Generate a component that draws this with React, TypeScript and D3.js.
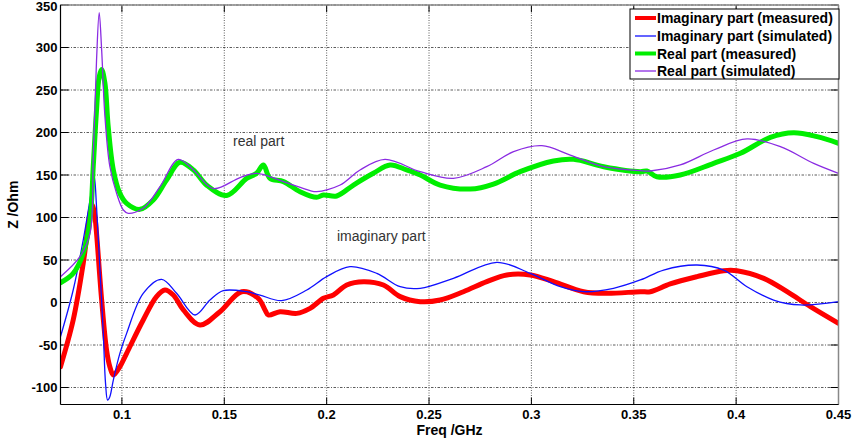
import React from "react";
import * as d3 from "d3";

// Frequency sweep (GHz) and impedance (Ohm) for each trace
const imagMeasFreq = [0.070, 0.0762, 0.0811, 0.0844, 0.0855, 0.0868, 0.0876, 0.0901, 0.0925, 0.0941, 0.0958, 0.0990, 0.1023, 0.1104, 0.1169, 0.1210, 0.1251, 0.1300, 0.1381, 0.1479, 0.1585, 0.1666, 0.1699, 0.1715, 0.1772, 0.1854, 0.1919, 0.1984, 0.2033, 0.2098, 0.2180, 0.2277, 0.2359, 0.2457, 0.2554, 0.2668, 0.2782, 0.2880, 0.2994, 0.3108, 0.3255, 0.3369, 0.3532, 0.3581, 0.3678, 0.3809, 0.3939, 0.4004, 0.4135, 0.4249, 0.4363, 0.45];
const imagMeasZ = [-75.5, -20.6, 46, 104.9, 114.7, 101, 81.4, 2.9, -55.9, -75.5, -85.3, -75.5, -59.8, -20.6, 6.9, 14.7, 8.8, -8.8, -26.5, -10.8, 12.7, 4.9, -8.8, -14.7, -10.8, -12.8, -6.9, 4.9, 8.8, 20.6, 24.5, 20.6, 6.9, 1, 2.9, 12.7, 24.5, 32.4, 32.4, 24.5, 12.7, 10.8, 12.7, 12.7, 21.8, 30.4, 37.4, 37.4, 28.4, 12.7, -4.9, -24.5];

const imagSimFreq = [0.070, 0.0762, 0.0811, 0.0844, 0.0860, 0.0865, 0.0876, 0.0892, 0.0909, 0.0920, 0.0930, 0.0941, 0.0958, 0.0990, 0.1023, 0.1104, 0.1194, 0.1267, 0.1357, 0.1430, 0.1495, 0.1609, 0.1674, 0.1780, 0.1903, 0.2000, 0.2114, 0.2245, 0.2359, 0.2457, 0.2619, 0.2831, 0.2994, 0.3141, 0.3255, 0.3401, 0.3532, 0.3646, 0.3809, 0.3939, 0.4053, 0.4183, 0.4314, 0.45];
const imagSimZ = [-40.2, 14.7, 73.5, 120.6, 144, 148, 112.7, 42, -36.3, -95.1, -114.7, -110.8, -91.2, -59.8, -36.3, 10.8, 27.3, 10.8, -14.7, 2.9, 13.9, 12.7, 8.8, 2.2, 14.7, 30.4, 42.2, 34.3, 18.6, 16.7, 28.4, 47.3, 34.3, 18.6, 12.7, 16.7, 26.5, 38.2, 44.1, 38.2, 18.6, 2.9, -2.9, 1];

const realMeasFreq = [0.070, 0.0762, 0.0811, 0.0844, 0.0860, 0.0876, 0.0889, 0.0901, 0.0917, 0.0933, 0.0958, 0.0990, 0.1023, 0.1088, 0.1153, 0.1218, 0.1283, 0.1349, 0.1414, 0.1512, 0.1609, 0.1658, 0.1691, 0.1723, 0.1789, 0.1870, 0.1951, 0.1984, 0.2049, 0.2131, 0.2228, 0.2310, 0.2391, 0.2457, 0.2554, 0.2701, 0.2815, 0.2945, 0.3108, 0.3206, 0.3353, 0.3532, 0.3564, 0.3613, 0.3727, 0.3890, 0.4021, 0.4167, 0.4281, 0.4395, 0.45];
const realMeasZ = [23.3, 34.3, 57.8, 97, 160, 226.5, 265.7, 274, 258, 207, 156, 128.4, 116.7, 109.6, 120.6, 144, 165, 156, 138, 126, 146, 152, 161.8, 146.1, 142.2, 130.4, 123.7, 126.5, 125.3, 138.2, 152, 161.8, 155.9, 150, 138.2, 133.5, 139.4, 153.9, 166.5, 168.4, 159.8, 153.9, 154.7, 148, 150, 163.7, 175.5, 194.3, 199.8, 195.1, 187.3];

const realSimFreq = [0.070, 0.0795, 0.0844, 0.0860, 0.0876, 0.0889, 0.0901, 0.0917, 0.0941, 0.0974, 0.1007, 0.1031, 0.1104, 0.1186, 0.1275, 0.1349, 0.1446, 0.1577, 0.1658, 0.1789, 0.1919, 0.1951, 0.2066, 0.2163, 0.2285, 0.2457, 0.2619, 0.2782, 0.2913, 0.3051, 0.3190, 0.3353, 0.3532, 0.3581, 0.3727, 0.3890, 0.4053, 0.4216, 0.4379, 0.45];
const realSimZ = [30.4, 53.9, 81.4, 171.6, 285, 341, 297, 219, 160, 128.4, 108.8, 104.9, 110.8, 136.3, 168.4, 156, 134, 147, 152, 142.2, 131.6, 130.4, 138.2, 155.9, 168.4, 153.9, 146.1, 159.8, 177.5, 184.5, 173.5, 159.8, 155.1, 154.7, 161.8, 179.4, 192.4, 183.3, 163.7, 152];

const xTicks = [0.1, 0.15, 0.2, 0.25, 0.3, 0.35, 0.4, 0.45];
const yTicks = [-100, -50, 0, 50, 100, 150, 200, 250, 300, 350];

const seriesLabels = [
  "Imaginary part (measured)",
  "Imaginary part (simulated)",
  "Real part (measured)",
  "Real part (simulated)",
];

const W = 853;
const H = 441;
const left = 60.5;
const right = 838.5;
const top = 5;
const bottom = 404.5;

const x = d3.scaleLinear().domain([0.07, 0.45]).range([left, right]);
const y = d3.scaleLinear().domain([-120, 350]).range([bottom, top]);

const zip = (f: number[], z: number[]) => f.map((v, i) => [v, z[i]] as [number, number]);

const lineGen = d3
  .line<[number, number]>()
  .x((d) => x(d[0]))
  .y((d) => y(d[1]))
  .curve(d3.curveCatmullRom.alpha(0.5));

const series = [
  { data: zip(imagMeasFreq, imagMeasZ), color: "#ff0000", width: 5 },
  { data: zip(imagSimFreq, imagSimZ), color: "#1010ff", width: 1.3 },
  { data: zip(realMeasFreq, realMeasZ), color: "#00ee00", width: 5 },
  { data: zip(realSimFreq, realSimZ), color: "#8a2be2", width: 1.3 },
];

const fmt = (v: number) => String(v);
const font = "'Liberation Sans', Arial, Helvetica, sans-serif";

export default function App() {
  const legendX = 630;
  const legendY = 9;
  const legendW = 209;
  const legendH = 70;
  const rowBase = [23, 41, 58.5, 76];

  return (
    <svg
      width={W}
      height={H}
      style={{ position: "absolute", left: 0, top: 0, background: "#fff" }}
      fontFamily={font}
    >
      <rect x={0} y={0} width={W} height={H} fill="#fff" />
      <defs>
        <clipPath id="plotClip">
          <rect x={left} y={top} width={right - left} height={bottom - top} />
        </clipPath>
      </defs>

      {/* grid */}
      <g stroke="#333" strokeWidth={0.8} fill="none">
        {yTicks.map((t) => (
          <line key={"gy" + t} x1={left} x2={right} y1={y(t)} y2={y(t)} strokeDasharray="2.5,1.5,1,1.5" />
        ))}
        {xTicks.map((t) => (
          <line key={"gx" + t} x1={x(t)} x2={x(t)} y1={top} y2={bottom} strokeDasharray="1,1.5" />
        ))}
      </g>

      {/* tick marks */}
      <g stroke="#000" strokeWidth={1}>
        {yTicks.map((t) => (
          <g key={"ty" + t}>
            <line x1={left} x2={left + 8} y1={y(t)} y2={y(t)} />
            <line x1={right - 8} x2={right} y1={y(t)} y2={y(t)} />
          </g>
        ))}
        {xTicks.map((t) => (
          <g key={"tx" + t}>
            <line x1={x(t)} x2={x(t)} y1={bottom} y2={bottom - 7} />
            <line x1={x(t)} x2={x(t)} y1={top} y2={top + 7} />
          </g>
        ))}
      </g>

      {/* traces */}
      <g clipPath="url(#plotClip)" fill="none" strokeLinejoin="round" strokeLinecap="round">
        {series.map((s, i) => (
          <path key={i} d={lineGen(s.data) || ""} stroke={s.color} strokeWidth={s.width} />
        ))}
      </g>

      {/* axes frame */}
      <line x1={left} x2={right} y1={top} y2={top} stroke="#888" strokeWidth={1.5} />
      <line x1={right} x2={right} y1={top} y2={bottom} stroke="#888" strokeWidth={1.5} />
      <line x1={left} x2={left} y1={top} y2={bottom} stroke="#000" strokeWidth={1.2} />
      <line x1={left} x2={right} y1={bottom} y2={bottom} stroke="#000" strokeWidth={1.2} />

      {/* tick labels */}
      <g fontSize={13} fontWeight="bold" fill="#000">
        {yTicks.map((t) => (
          <text key={"ly" + t} x={left - 3} y={Math.max(y(t) + 4.5, 10.5)} textAnchor="end">
            {fmt(t)}
          </text>
        ))}
        {xTicks.map((t) => (
          <text key={"lx" + t} x={x(t)} y={419} textAnchor="middle">
            {fmt(t)}
          </text>
        ))}
      </g>

      {/* axis titles */}
      <text x={(left + right) / 2} y={435} textAnchor="middle" fontSize={14} fontWeight="bold">
        Freq /GHz
      </text>
      <text
        transform={`translate(18, ${(top + bottom) / 2}) rotate(-90)`}
        textAnchor="middle"
        fontSize={14}
        fontWeight="bold"
      >
        Z /Ohm
      </text>

      {/* annotations */}
      <text x={233} y={146} fontSize={14} fill="#333">real part</text>
      <text x={337} y={241} fontSize={14} fill="#333">imaginary part</text>

      {/* legend */}
      <rect x={legendX} y={legendY} width={legendW} height={legendH} fill="#fff" stroke="#000" strokeWidth={1} />
      {series.map((s, i) => (
        <g key={"lg" + i}>
          <line
            x1={legendX + 5}
            x2={legendX + 26}
            y1={rowBase[i] - 5}
            y2={rowBase[i] - 5}
            stroke={s.color}
            strokeWidth={s.width === 5 ? 4 : 1.3}
          />
          <text x={legendX + 27} y={rowBase[i]} fontSize={14} fontWeight="bold" fill="#000">
            {seriesLabels[i]}
          </text>
        </g>
      ))}
    </svg>
  );
}
